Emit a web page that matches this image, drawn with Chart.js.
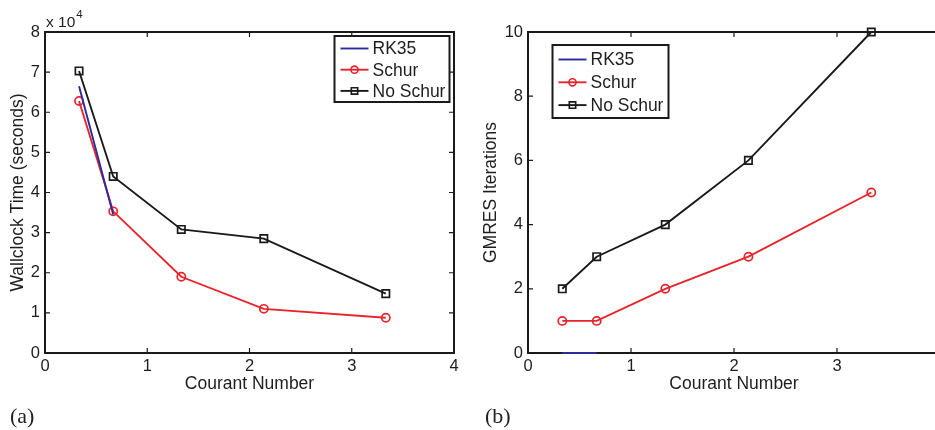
<!DOCTYPE html>
<html>
<head>
<meta charset="utf-8">
<script src="https://cdn.jsdelivr.net/npm/chart.js@4.4.0/dist/chart.umd.min.js"></script>
<style>
  html, body { margin: 0; padding: 0; background: #fff; overflow: hidden; width: 935px; height: 430px; }
  .panel { position: absolute; top: 0; }
  #canvasA { left: 0; }
  #canvasB { left: 470px; }
  .tag { position: absolute; top: 404px; font-family: "Liberation Serif", "DejaVu Serif", serif; font-size: 22px; line-height: 24px; color: #222; }
</style>
</head>
<body>
<canvas id="canvasA" class="panel" width="470" height="430"></canvas>
<canvas id="canvasB" class="panel" width="480" height="430"></canvas>
<div class="tag" style="left:10px">(a)</div>
<div class="tag" style="left:485px">(b)</div>

<script>
// Courant numbers used in both panels
const courant = [0.333, 0.667, 1.333, 2.14, 3.333];
const courantRK = [0.333, 0.667];

// (a) wallclock time, seconds
const wallSchur = [62800, 35300, 19000, 11000, 8800];
const wallNoSchur = [70300, 44000, 30800, 28500, 14800];
const wallRK35 = [66500, 34500];

// (b) GMRES iterations
const gmresSchur = [1, 1, 2, 3, 5];
const gmresNoSchur = [2, 3, 4, 6, 10];
const gmresRK35 = [0, 0];

const xTicks = [0, 1, 2, 3, 4];
const wallTicks = [0, 1, 2, 3, 4, 5, 6, 7, 8];
const gmresTicks = [0, 2, 4, 6, 8, 10];

const FONT = '"Liberation Sans", Arial, Helvetica, sans-serif';
const TEXT = '#1e1e1e';
const RED = '#e8242b';
const BLACK = '#1a1a1a';
const BLUE = '#2b2b9c';

function pts(xs, ys) {
    return xs.map((x, i) => ({ x: x, y: ys[i] }));
}

function series(label, xs, ys, color, marker) {
    return {
        label: label,
        data: pts(xs, ys),
        borderColor: color,
        backgroundColor: 'rgba(0,0,0,0)',
        borderWidth: 1.9,
        pointStyle: marker || 'circle',
        pointRadius: marker ? (marker === 'rect' ? 5.2 : 4.1) : 0,
        pointBorderWidth: 1.7,
        pointBorderColor: color,
        pointBackgroundColor: 'rgba(0,0,0,0)',
        tension: 0,
        clip: false
    };
}

// MATLAB style box with inward ticks on all four sides
const matlabFrame = {
    id: 'matlabFrame',
    beforeDatasetsDraw(chart) {
        const { ctx, chartArea: a, scales } = chart;
        ctx.save();
        ctx.strokeStyle = BLACK;
        ctx.lineWidth = 1.2;
        const tl = 5;
        scales.x.ticks.forEach(t => {
            const px = scales.x.getPixelForValue(t.value);
            ctx.beginPath();
            ctx.moveTo(px, a.bottom); ctx.lineTo(px, a.bottom - tl);
            ctx.moveTo(px, a.top); ctx.lineTo(px, a.top + tl);
            ctx.stroke();
        });
        scales.y.ticks.forEach(t => {
            const py = scales.y.getPixelForValue(t.value);
            ctx.beginPath();
            ctx.moveTo(a.left, py); ctx.lineTo(a.left + tl, py);
            ctx.moveTo(a.right, py); ctx.lineTo(a.right - tl, py);
            ctx.stroke();
        });
        ctx.lineWidth = 2;
        ctx.strokeRect(a.left, a.top, a.right - a.left, a.bottom - a.top);
        ctx.restore();
    }
};

function drawMarker(ctx, style, x, y, color) {
    ctx.strokeStyle = color;
    ctx.lineWidth = 1.6;
    ctx.beginPath();
    if (style === 'circle') {
        ctx.arc(x, y, 3.6, 0, Math.PI * 2);
    } else if (style === 'rect') {
        ctx.rect(x - 3.2, y - 3.2, 6.4, 6.4);
    }
    ctx.stroke();
}

// legend box drawn inside the axes
const matlabLegend = {
    id: 'matlabLegend',
    afterDraw(chart, args, o) {
        const ctx = chart.ctx;
        ctx.save();
        ctx.fillStyle = '#fff';
        ctx.fillRect(o.x, o.y, o.w, o.h);
        ctx.strokeStyle = BLACK;
        ctx.lineWidth = 2;
        ctx.strokeRect(o.x, o.y, o.w, o.h);
        ctx.font = '17.5px ' + FONT;
        ctx.textBaseline = 'middle';
        chart.data.datasets.forEach((ds, i) => {
            const y = o.y + o.first + i * o.row;
            const x0 = o.x + 6, x1 = o.x + 34;
            ctx.strokeStyle = ds.borderColor;
            ctx.lineWidth = 1.9;
            ctx.beginPath();
            ctx.moveTo(x0, y); ctx.lineTo(x1, y);
            ctx.stroke();
            if (ds.pointRadius > 0) drawMarker(ctx, ds.pointStyle, (x0 + x1) / 2, y, ds.borderColor);
            ctx.fillStyle = TEXT;
            ctx.fillText(ds.label, x1 + 4, y + 1);
        });
        ctx.restore();
    }
};

// exponent label above the y axis of panel (a)
const exponentLabel = {
    id: 'exponentLabel',
    afterDraw(chart, args, o) {
        if (!o.show) return;
        const { ctx, chartArea: a } = chart;
        ctx.save();
        ctx.fillStyle = TEXT;
        ctx.textBaseline = 'alphabetic';
        ctx.font = '15.5px ' + FONT;
        ctx.fillText('x 10', a.left + 1, a.top - 5);
        const w = ctx.measureText('x 10').width;
        ctx.font = '11.5px ' + FONT;
        ctx.fillText('4', a.left + 2 + w, a.top - 14);
        ctx.restore();
    }
};

function makeChart(id, datasets, yMax, yTicks, yScale, yTitle, pad, yWidth, titlePad, legend, showExp) {
    return new Chart(document.getElementById(id), {
        type: 'line',
        data: { datasets: datasets },
        plugins: [matlabFrame, matlabLegend, exponentLabel],
        options: {
            responsive: false,
            animation: false,
            events: [],
            layout: { padding: pad },
            plugins: {
                legend: { display: false },
                tooltip: { enabled: false },
                matlabLegend: legend,
                exponentLabel: { show: showExp }
            },
            scales: {
                x: {
                    type: 'linear',
                    min: 0,
                    max: 4,
                    afterBuildTicks: s => { s.ticks = xTicks.map(v => ({ value: v })); },
                    afterFit: s => { s.height = 45; },
                    grid: { display: false, drawTicks: false },
                    border: { display: false },
                    ticks: { padding: 4, color: TEXT, autoSkip: false, font: { family: FONT, size: 16.5 }, maxRotation: 0 },
                    title: { display: true, text: 'Courant Number', color: TEXT, font: { family: FONT, size: 17.5 }, padding: { top: 0, bottom: 3 } }
                },
                y: {
                    type: 'linear',
                    min: 0,
                    max: yMax,
                    afterBuildTicks: s => { s.ticks = yTicks.map(v => ({ value: v * yScale })); },
                    afterFit: s => { s.width = yWidth; },
                    grid: { display: false, drawTicks: false },
                    border: { display: false },
                    ticks: { padding: 5, color: TEXT, font: { family: FONT, size: 16.5 }, callback: v => v / yScale },
                    title: { display: true, text: yTitle, color: TEXT, font: { family: FONT, size: 17.5 }, padding: { top: titlePad, bottom: 0 } }
                }
            }
        }
    });
}

makeChart('canvasA', [
    series('RK35', courantRK, wallRK35, BLUE, null),
    series('Schur', courant, wallSchur, RED, 'circle'),
    series('No Schur', courant, wallNoSchur, BLACK, 'rect')
], 80000, wallTicks, 10000, 'Wallclock Time (seconds)',
    { left: 0, top: 32, right: 16, bottom: 32 }, 45, 8,
    { x: 334.5, y: 36, w: 115, h: 66, first: 12.5, row: 21.2 }, true);

makeChart('canvasB', [
    series('RK35', courantRK, gmresRK35, BLUE, null),
    series('Schur', courant, gmresSchur, RED, 'circle'),
    series('No Schur', courant, gmresNoSchur, BLACK, 'rect')
], 10, gmresTicks, 1, 'GMRES Iterations',
    { left: 0, top: 32, right: 10, bottom: 32 }, 58, 11,
    { x: 82.5, y: 45, w: 116, h: 73, first: 14.5, row: 22.8 }, false);
</script>
</body>
</html>
